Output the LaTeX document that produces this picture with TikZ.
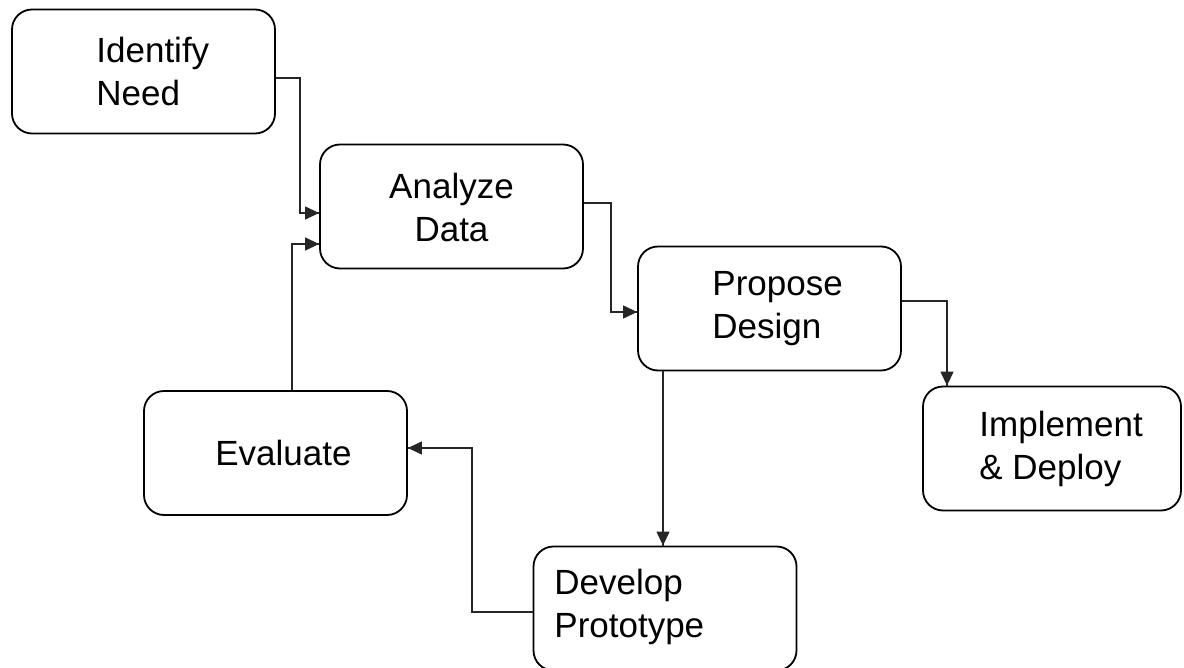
\documentclass[tikz,border=0pt]{standalone}
\usepackage{fontspec}
\setmainfont{Liberation Sans}
\usetikzlibrary{arrows.meta,decorations.markings}
\tikzset{box/.style = {draw, line width=0.9pt, rounded corners=10pt, minimum width=131.5pt, minimum height=62pt, inner sep=0pt}}
\tikzset{txt/.style = {inner sep=0pt, align=left, font=\fontsize{17.5}{21.5}\selectfont}}
\tikzset{flow/.style = {line width=0.6pt, draw=black!85, decoration={markings, mark=at position 1 with {\arrow{Triangle[length=7pt,width=6.5pt]}}}, postaction={decorate}}}

\begin{document}
\begin{tikzpicture}[x=0.5pt, y=-0.5pt]
      \useasboundingbox (0,0) rectangle (1184,668);
      % boxes
      \node [box] (need) at (143.5,71.5) {};
      \node [box] (analyze) at (451.5,206.5) {};
      \node [box] (propose) at (769.5,308.5) {};
      \node [box, minimum width=129pt] (implement) at (1052,448.5) {};
      \node [box] (evaluate) at (275.5,453) {};
      \node [box] (develop) at (665,608.5) {};
      % texts
      \node [txt, anchor=west] (need-t) at (96,71.5) {Identify\\Need};
      \node [txt, align=center] (analyze-t) at (451.5,207) {Analyze\\Data};
      \node [txt, anchor=west] (propose-t) at (712,308.5) {Propose\\Design};
      \node [txt, anchor=west] (implement-t) at (979,448.5) {Implement\\\& Deploy};
      \node [txt, anchor=west] (evaluate-t) at (215,453) {Evaluate};
      \node [txt, anchor=west] (develop-t) at (554,607) {Develop\\Prototype};
      % connectors
      \draw [flow] (need.east |- 0,78) -| (300,213) -- (analyze.west |- 0,213);
      \draw [flow] (evaluate.north -| 292,0) |- (analyze.west |- 0,244);
      \draw [flow] (analyze.east |- 0,203) -| (611,312) -- (propose.west |- 0,312);
      \draw [flow] (propose.east |- 0,301) -| (implement.north -| 947,0);
      \draw [flow] (propose.south -| 663,0) -- (develop.north -| 663,0);
      \draw [flow] (develop.west |- 0,612) -| (472,448) -- (evaluate.east |- 0,448);
    \end{tikzpicture}
\end{document}
